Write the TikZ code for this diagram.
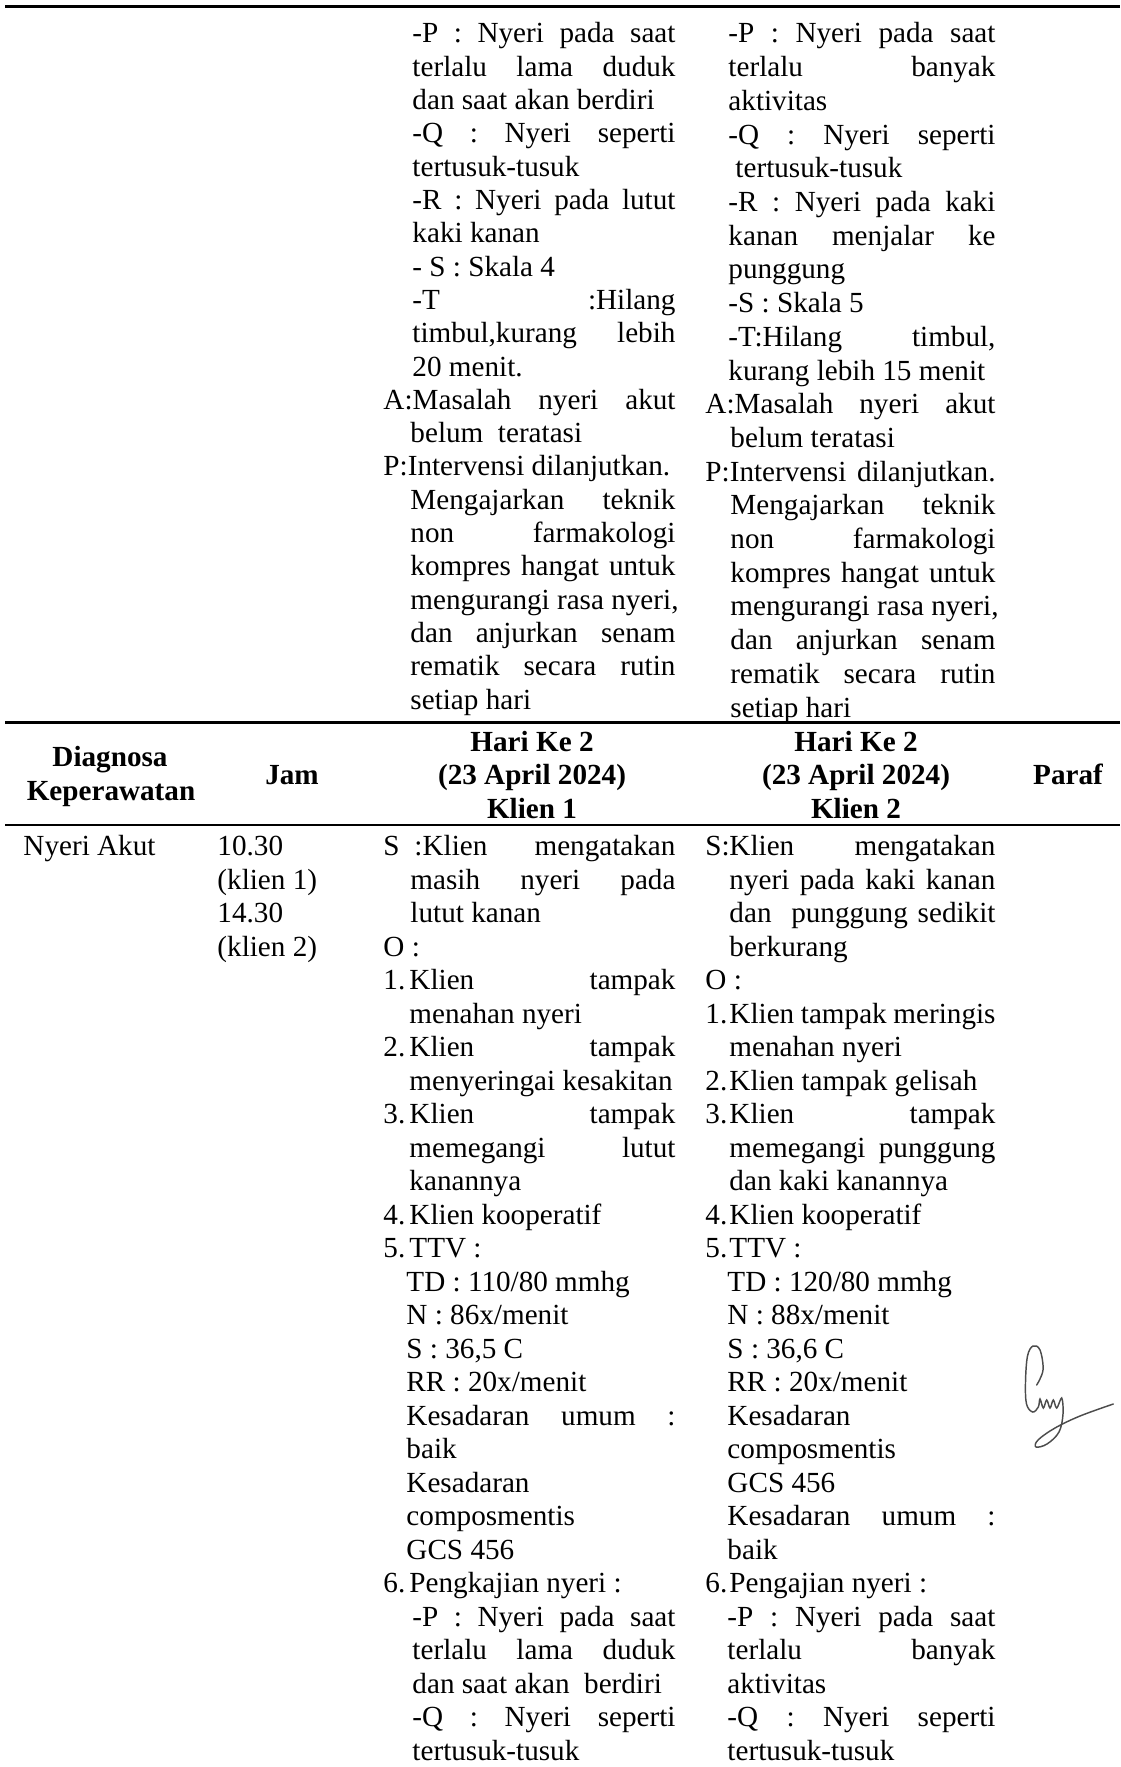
\documentclass[tikz,border=0pt]{standalone}
\usepackage{fontspec}
\setmainfont{Liberation Serif}
\newlength{\pxu}
\setlength{\pxu}{0.4115pt}
\newcommand{\jus}[2]{\makebox[#1\pxu][s]{#2}}
\newcommand{\ta}[1]{43+33.3*#1}
\newcommand{\tb}[1]{43+33.7*#1}
\newcommand{\bt}[1]{855.5+33.5*#1}
\tikzset{txt/.style = {anchor = base west, inner sep = 0pt,
                       font = \fontsize{12}{14}\selectfont},
         hdr/.style = {anchor = base, inner sep = 0pt,
                       font = \fontsize{12}{14}\selectfont\bfseries},
         rule/.style = {line width = 1.2pt}}
\definecolor{sign}{rgb}{0.3, 0.3, 0.3}

\begin{document}
\begin{tikzpicture}[x = 0.4115pt, y = -0.4115pt]
      \useasboundingbox (0, 0) rectangle (1120, 1767);

      \coordinate (r1a) at (5, 6.5);   \coordinate (r1b) at (1120, 6.5);
      \coordinate (r2a) at (5, 722.5); \coordinate (r2b) at (1120, 722.5);
      \coordinate (r3a) at (5, 825);   \coordinate (r3b) at (1120, 825);
      \draw [rule] (r1a) -- (r1b);
      \draw [rule] (r2a) -- (r2b);
      \draw [rule] (r3a) -- (r3b);

      \node [txt] (pa0) at (412, \ta{0}) {\jus{263}{-P : Nyeri pada saat}};
      \node [txt] (pa1) at (412, \ta{1}) {\jus{263}{terlalu lama duduk}};
      \node [txt] (pa2) at (412, \ta{2}) {dan saat akan berdiri};
      \node [txt] (pa3) at (412, \ta{3}) {\jus{263}{-Q : Nyeri seperti}};
      \node [txt] (pa4) at (412, \ta{4}) {tertusuk-tusuk};
      \node [txt] (pa5) at (412, \ta{5}) {\jus{263}{-R : Nyeri pada lutut}};
      \node [txt] (pa6) at (412, \ta{6}) {kaki kanan};
      \node [txt] (pa7) at (412, \ta{7}) {- S : Skala 4};
      \node [txt] (pa8) at (412, \ta{8}) {\jus{263}{-T :Hilang}};
      \node [txt] (pa9) at (412, \ta{9}) {\jus{263}{timbul,kurang lebih}};
      \node [txt] (pa10) at (412, \ta{10}) {20 menit.};
      \node [txt] (pa11) at (383, \ta{11}) {\jus{292}{A:Masalah nyeri akut}};
      \node [txt] (pa12) at (410, \ta{12}) {belum\ \ teratasi};
      \node [txt] (pa13) at (383, \ta{13}) {P:Intervensi dilanjutkan.};
      \node [txt] (pa14) at (410, \ta{14}) {\jus{265}{Mengajarkan teknik}};
      \node [txt] (pa15) at (410, \ta{15}) {\jus{265}{non farmakologi}};
      \node [txt] (pa16) at (410, \ta{16}) {\jus{265}{kompres hangat untuk}};
      \node [txt] (pa17) at (410, \ta{17}) {mengurangi rasa nyeri,};
      \node [txt] (pa18) at (410, \ta{18}) {\jus{265}{dan anjurkan senam}};
      \node [txt] (pa19) at (410, \ta{19}) {\jus{265}{rematik secara rutin}};
      \node [txt] (pa20) at (410, \ta{20}) {setiap hari};

      \node [txt] (pb0) at (728, \tb{0}) {\jus{267}{-P : Nyeri pada saat}};
      \node [txt] (pb1) at (728, \tb{1}) {\jus{267}{terlalu banyak}};
      \node [txt] (pb2) at (728, \tb{2}) {aktivitas};
      \node [txt] (pb3) at (728, \tb{3}) {\jus{267}{-Q : Nyeri seperti}};
      \node [txt] (pb4) at (735, \tb{4}) {tertusuk-tusuk};
      \node [txt] (pb5) at (728, \tb{5}) {\jus{267}{-R : Nyeri pada kaki}};
      \node [txt] (pb6) at (728, \tb{6}) {\jus{267}{kanan menjalar ke}};
      \node [txt] (pb7) at (728, \tb{7}) {punggung};
      \node [txt] (pb8) at (728, \tb{8}) {-S : Skala 5};
      \node [txt] (pb9) at (728, \tb{9}) {\jus{267}{-T:Hilang timbul,}};
      \node [txt] (pb10) at (728, \tb{10}) {kurang lebih 15 menit};
      \node [txt] (pb11) at (705, \tb{11}) {\jus{290}{A:Masalah nyeri akut}};
      \node [txt] (pb12) at (730, \tb{12}) {belum teratasi};
      \node [txt] (pb13) at (705, \tb{13}) {\jus{290}{P:Intervensi dilanjutkan.}};
      \node [txt] (pb14) at (730, \tb{14}) {\jus{265}{Mengajarkan teknik}};
      \node [txt] (pb15) at (730, \tb{15}) {\jus{265}{non farmakologi}};
      \node [txt] (pb16) at (730, \tb{16}) {\jus{265}{kompres hangat untuk}};
      \node [txt] (pb17) at (730, \tb{17}) {mengurangi rasa nyeri,};
      \node [txt] (pb18) at (730, \tb{18}) {\jus{265}{dan anjurkan senam}};
      \node [txt] (pb19) at (730, \tb{19}) {\jus{265}{rematik secara rutin}};
      \node [txt] (pb20) at (730, \tb{20}) {setiap hari};

      \node [hdr] (hdiag) at (110, 766.5) {Diagnosa};
      \node [hdr] (hkep) at (111, 800.5) {Keperawatan};
      \node [hdr] (hjam) at (292, 784.5) {Jam};
      \node [hdr] (hk1a) at (532, 751) {Hari Ke 2};
      \node [hdr] (hk1b) at (532, 784.5) {(23 April 2024)};
      \node [hdr] (hk1c) at (532, 818) {Klien 1};
      \node [hdr] (hk2a) at (856, 751) {Hari Ke 2};
      \node [hdr] (hk2b) at (856, 784.5) {(23 April 2024)};
      \node [hdr] (hk2c) at (856, 818) {Klien 2};
      \node [hdr] (hparaf) at (1068, 784.5) {Paraf};

      \node [txt] (diag) at (23, \bt{0}) {Nyeri Akut};
      \node [txt] (jam0) at (217, \bt{0}) {10.30};
      \node [txt] (jam1) at (217, \bt{1}) {(klien 1)};
      \node [txt] (jam2) at (217, \bt{2}) {14.30};
      \node [txt] (jam3) at (217, \bt{3}) {(klien 2)};

      \node [txt] (la0) at (383, \bt{0}) {S};
      \node [txt] (qa0) at (414, \bt{0}) {\jus{261}{:Klien mengatakan}};
      \node [txt] (qa1) at (410, \bt{1}) {\jus{265}{masih nyeri pada}};
      \node [txt] (qa2) at (410, \bt{2}) {lutut kanan};
      \node [txt] (la3) at (383, \bt{3}) {O :};
      \node [txt] (la4) at (383, \bt{4}) {1.};
      \node [txt] (qa4) at (409, \bt{4}) {\jus{266}{Klien tampak}};
      \node [txt] (qa5) at (409, \bt{5}) {menahan nyeri};
      \node [txt] (la6) at (383, \bt{6}) {2.};
      \node [txt] (qa6) at (409, \bt{6}) {\jus{266}{Klien tampak}};
      \node [txt] (qa7) at (409, \bt{7}) {menyeringai kesakitan};
      \node [txt] (la8) at (383, \bt{8}) {3.};
      \node [txt] (qa8) at (409, \bt{8}) {\jus{266}{Klien tampak}};
      \node [txt] (qa9) at (409, \bt{9}) {\jus{266}{memegangi lutut}};
      \node [txt] (qa10) at (409, \bt{10}) {kanannya};
      \node [txt] (la11) at (383, \bt{11}) {4.};
      \node [txt] (qa11) at (409, \bt{11}) {Klien kooperatif};
      \node [txt] (la12) at (383, \bt{12}) {5.};
      \node [txt] (qa12) at (409, \bt{12}) {TTV :};
      \node [txt] (qa13) at (406, \bt{13}) {TD : 110/80 mmhg};
      \node [txt] (qa14) at (406, \bt{14}) {N : 86x/menit};
      \node [txt] (qa15) at (406, \bt{15}) {S : 36,5 C};
      \node [txt] (qa16) at (406, \bt{16}) {RR : 20x/menit};
      \node [txt] (qa17) at (406, \bt{17}) {\jus{269}{Kesadaran umum :}};
      \node [txt] (qa18) at (406, \bt{18}) {baik};
      \node [txt] (qa19) at (406, \bt{19}) {Kesadaran};
      \node [txt] (qa20) at (406, \bt{20}) {composmentis};
      \node [txt] (qa21) at (406, \bt{21}) {GCS 456};
      \node [txt] (la22) at (383, \bt{22}) {6.};
      \node [txt] (qa22) at (409, \bt{22}) {Pengkajian nyeri :};
      \node [txt] (qa23) at (412, \bt{23}) {\jus{263}{-P : Nyeri pada saat}};
      \node [txt] (qa24) at (412, \bt{24}) {\jus{263}{terlalu lama duduk}};
      \node [txt] (qa25) at (412, \bt{25}) {dan saat akan\ \ berdiri};
      \node [txt] (qa26) at (412, \bt{26}) {\jus{263}{-Q : Nyeri seperti}};
      \node [txt] (qa27) at (412, \bt{27}) {tertusuk-tusuk};

      \node [txt] (lb0) at (705, \bt{0}) {S:};
      \node [txt] (qb0) at (729, \bt{0}) {\jus{266}{Klien mengatakan}};
      \node [txt] (qb1) at (729, \bt{1}) {\jus{266}{nyeri pada kaki kanan}};
      \node [txt] (qb2) at (729, \bt{2}) {\jus{266}{dan\ \ punggung sedikit}};
      \node [txt] (qb3) at (729, \bt{3}) {berkurang};
      \node [txt] (lb4) at (705, \bt{4}) {O :};
      \node [txt] (lb5) at (705, \bt{5}) {1.};
      \node [txt] (qb5) at (729, \bt{5}) {\jus{266}{Klien tampak meringis}};
      \node [txt] (qb6) at (729, \bt{6}) {menahan nyeri};
      \node [txt] (lb7) at (705, \bt{7}) {2.};
      \node [txt] (qb7) at (729, \bt{7}) {Klien tampak gelisah};
      \node [txt] (lb8) at (705, \bt{8}) {3.};
      \node [txt] (qb8) at (729, \bt{8}) {\jus{266}{Klien tampak}};
      \node [txt] (qb9) at (729, \bt{9}) {\jus{266}{memegangi\ \ punggung}};
      \node [txt] (qb10) at (729, \bt{10}) {dan kaki kanannya};
      \node [txt] (lb11) at (705, \bt{11}) {4.};
      \node [txt] (qb11) at (729, \bt{11}) {Klien kooperatif};
      \node [txt] (lb12) at (705, \bt{12}) {5.};
      \node [txt] (qb12) at (729, \bt{12}) {TTV :};
      \node [txt] (qb13) at (727, \bt{13}) {TD : 120/80 mmhg};
      \node [txt] (qb14) at (727, \bt{14}) {N : 88x/menit};
      \node [txt] (qb15) at (727, \bt{15}) {S : 36,6 C};
      \node [txt] (qb16) at (727, \bt{16}) {RR : 20x/menit};
      \node [txt] (qb17) at (727, \bt{17}) {Kesadaran};
      \node [txt] (qb18) at (727, \bt{18}) {composmentis};
      \node [txt] (qb19) at (727, \bt{19}) {GCS 456};
      \node [txt] (qb20) at (727, \bt{20}) {\jus{268}{Kesadaran umum :}};
      \node [txt] (qb21) at (727, \bt{21}) {baik};
      \node [txt] (lb22) at (705, \bt{22}) {6.};
      \node [txt] (qb22) at (729, \bt{22}) {Pengajian nyeri :};
      \node [txt] (qb23) at (727, \bt{23}) {\jus{268}{-P : Nyeri pada saat}};
      \node [txt] (qb24) at (727, \bt{24}) {\jus{268}{terlalu banyak}};
      \node [txt] (qb25) at (727, \bt{25}) {aktivitas};
      \node [txt] (qb26) at (727, \bt{26}) {\jus{268}{-Q : Nyeri seperti}};
      \node [txt] (qb27) at (727, \bt{27}) {tertusuk-tusuk};

      \draw [sign, line width = 0.6pt, line cap = round] plot [smooth, tension = 0.6] coordinates {
            (1036.7, 1385) (1043, 1370) (1040, 1350) (1033, 1346) (1027.5, 1356)
            (1025.5, 1382) (1026.5, 1404) (1032.7, 1412) (1038.3, 1407) (1040, 1399)
            (1043.3, 1408) (1046.7, 1400) (1050, 1408) (1053.3, 1400) (1056.7, 1408)
            (1061.7, 1398) (1063, 1414) (1059, 1432) (1047, 1444) (1036, 1447)
            (1038, 1440) (1055, 1428) (1080, 1416) (1113.3, 1404)};
    \end{tikzpicture}
\end{document}
